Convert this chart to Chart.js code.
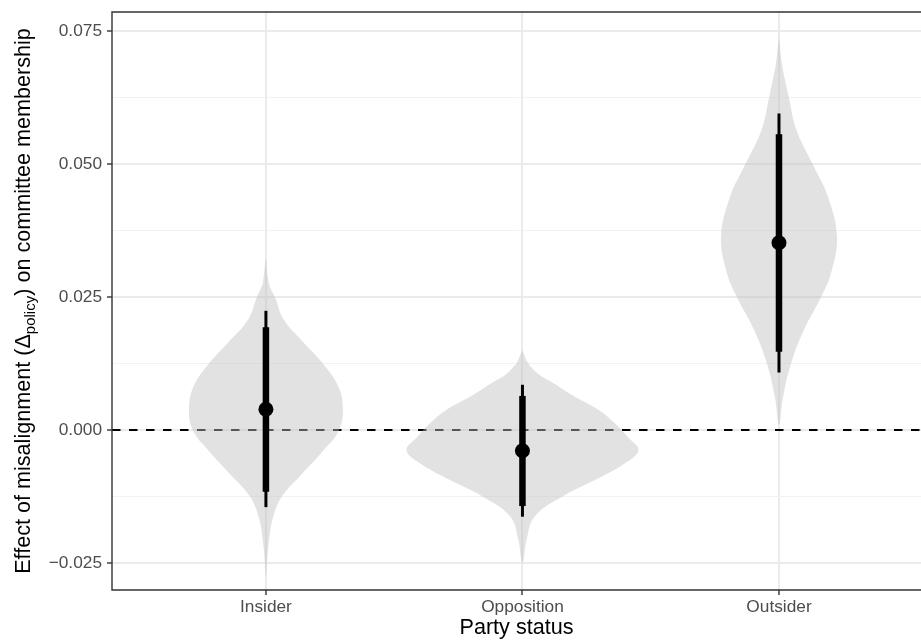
<!DOCTYPE html>
<html>
<head>
<meta charset="UTF-8">
<title>Party status violins</title>
<script src="https://cdn.jsdelivr.net/npm/chart.js@4.4.1/dist/chart.umd.min.js"></script>
<style>
  html, body { margin: 0; padding: 0; background: #fff; }
  #wrap { width: 921px; height: 643px; position: relative; }
</style>
</head>
<body>
<div id="wrap"><canvas id="myChart"></canvas></div>
<script>
// categories and point estimates with intervals
const categories = ['Insider', 'Opposition', 'Outsider'];
const estimates = [0.0039, -0.0039, 0.0352];
const innerLow = [-0.0116, -0.0143, 0.0147];
const innerHigh = [0.0193, 0.0064, 0.0556];
const outerLow = [-0.0145, -0.0163, 0.0108];
const outerHigh = [0.0224, 0.0085, 0.0595];

// violin outlines: levels (y value) and half-width (in category units)
const insiderLevels = [0.0325, 0.0275, 0.025, 0.0207, 0.0166, 0.0125, 0.0083, 0.0041, 0, -0.0042, -0.0083, -0.0125, -0.0166, -0.0208, -0.025, -0.0275];
const insiderWidths = [0, 0.012, 0.035, 0.070, 0.144, 0.222, 0.281, 0.300, 0.285, 0.218, 0.140, 0.062, 0.027, 0.012, 0.004, 0];
const oppositionLevels = [0.015, 0.0125, 0.0104, 0.0088, 0.0063, 0.0038, 0.0013, -0.0013, -0.0038, -0.0063, -0.0088, -0.0125, -0.0163, -0.0207, -0.025];
const oppositionWidths = [0, 0.023, 0.066, 0.121, 0.203, 0.296, 0.359, 0.410, 0.452, 0.398, 0.308, 0.156, 0.047, 0.016, 0];
const outsiderLevels = [0.0739, 0.0687, 0.0624, 0.0564, 0.0498, 0.0438, 0.0363, 0.0295, 0.025, 0.0188, 0.0125, 0.0062, 0.001];
const outsiderWidths = [0, 0.012, 0.039, 0.068, 0.133, 0.191, 0.226, 0.203, 0.164, 0.097, 0.047, 0.016, 0];

// axis ticks
const yMajorTicks = [-0.025, 0, 0.025, 0.05, 0.075];
const yTickLabels = ['\u22120.025', '0.000', '0.025', '0.050', '0.075'];
const yMinorTicks = [-0.0125, 0.0125, 0.0375, 0.0625];

const FONT = "'Liberation Sans', Arial, Helvetica, sans-serif";

function violinPath(center, levels, widths) {
  const right = levels.map((lv, i) => ({ x: center + widths[i], y: lv }));
  const left = [];
  for (let i = levels.length - 2; i >= 1; i--) {
    left.push({ x: center - widths[i], y: levels[i] });
  }
  return right.concat(left);
}

const violins = [
  violinPath(1, insiderLevels, insiderWidths),
  violinPath(2, oppositionLevels, oppositionWidths),
  violinPath(3, outsiderLevels, outsiderWidths)
];

const datasets = [];

// dashed reference line at zero
datasets.push({
  data: [{ x: 0.4, y: 0 }, { x: 3.6, y: 0 }],
  borderColor: '#000',
  borderWidth: 2,
  borderDash: [8.5, 8.5],
  pointRadius: 0,
  tension: 0,
  fill: false,
  order: 10
});

violins.forEach(v => {
  datasets.push({
    data: v,
    borderWidth: 0,
    borderColor: 'rgba(0,0,0,0)',
    backgroundColor: 'rgba(190,190,190,0.45)',
    pointRadius: 0,
    tension: 0.4,
    fill: 'shape',
    order: 8
  });
});

categories.forEach((c, i) => {
  datasets.push({
    data: [{ x: i + 1, y: outerLow[i] }, { x: i + 1, y: outerHigh[i] }],
    borderColor: '#000',
    borderWidth: 3,
    borderCapStyle: 'butt',
    pointRadius: 0,
    tension: 0,
    fill: false,
    order: 4
  });
  datasets.push({
    data: [{ x: i + 1, y: innerLow[i] }, { x: i + 1, y: innerHigh[i] }],
    borderColor: '#000',
    borderWidth: 6.5,
    borderCapStyle: 'butt',
    pointRadius: 0,
    tension: 0,
    fill: false,
    order: 3
  });
});

datasets.push({
  data: estimates.map((e, i) => ({ x: i + 1, y: e })),
  showLine: false,
  pointRadius: 7.5,
  pointBackgroundColor: '#000',
  pointBorderWidth: 0,
  order: 1
});

const isMajor = v => yMajorTicks.some(t => Math.abs(t - v) < 1e-9);

// panel border (right side falls outside the picture) + rotated y title with subscript
const panelPlugin = {
  id: 'panel',
  afterDatasetsDraw(chart) {
    const { ctx, chartArea: a } = chart;
    ctx.save();
    ctx.strokeStyle = '#333';
    ctx.lineWidth = 1.4;
    ctx.beginPath();
    ctx.moveTo(a.right + 2, a.top);
    ctx.lineTo(a.left, a.top);
    ctx.lineTo(a.left, a.bottom);
    ctx.lineTo(a.right + 2, a.bottom);
    ctx.stroke();
    ctx.restore();
  },
  afterDraw(chart) {
    const { ctx, chartArea: a } = chart;
    const t1 = 'Effect of misalignment (\u0394';
    const sub = 'policy';
    const t2 = ') on committee membership';
    const big = "21.6px " + FONT;
    const small = "15px " + FONT;
    ctx.save();
    ctx.font = big;
    const w1 = ctx.measureText(t1).width;
    const w2 = ctx.measureText(t2).width;
    ctx.font = small;
    const ws = ctx.measureText(sub).width;
    const total = w1 + ws + w2;
    ctx.translate(29.5, (a.top + a.bottom) / 2);
    ctx.rotate(-Math.PI / 2);
    ctx.fillStyle = '#000';
    ctx.textBaseline = 'alphabetic';
    ctx.textAlign = 'left';
    let x = -total / 2;
    ctx.font = big;
    ctx.fillText(t1, x, 0);
    x += w1;
    ctx.font = small;
    ctx.fillText(sub, x, 5);
    x += ws;
    ctx.font = big;
    ctx.fillText(t2, x, 0);
    ctx.restore();
  }
};

new Chart(document.getElementById('myChart'), {
  type: 'line',
  data: { datasets },
  plugins: [panelPlugin],
  options: {
    responsive: true,
    maintainAspectRatio: false,
    animation: false,
    layout: { autoPadding: false, padding: { top: 12, right: 0, left: 0, bottom: 0 } },
    plugins: { legend: { display: false }, tooltip: { enabled: false } },
    scales: {
      x: {
        type: 'linear',
        min: 0.4,
        max: 3.5536,
        afterBuildTicks: s => { s.ticks = categories.map((c, i) => ({ value: i + 1 })); },
        afterFit: s => { s.height = 53; s.paddingLeft = 0; s.paddingRight = 0; },
        border: { display: false },
        grid: {
          color: '#EBEBEB',
          lineWidth: 2,
          tickColor: '#333',
          tickLength: 5,
          tickWidth: 1.4
        },
        ticks: {
          autoSkip: false,
          maxRotation: 0,
          padding: 2,
          color: '#4D4D4D',
          font: { family: FONT, size: 17.3 },
          callback: v => categories[Math.round(v) - 1]
        },
        title: {
          display: true,
          text: 'Party status',
          color: '#000',
          font: { family: FONT, size: 21.6 },
          padding: { top: 0, bottom: 2 }
        }
      },
      y: {
        type: 'linear',
        min: -0.03008,
        max: 0.07857,
        afterBuildTicks: s => {
          s.ticks = yMajorTicks.concat(yMinorTicks).sort((a, b) => a - b).map(v => ({ value: v }));
        },
        afterFit: s => { s.width = 112; s.paddingTop = 0; s.paddingBottom = 0; },
        border: { display: false },
        grid: {
          color: ctx => isMajor(ctx.tick.value) ? '#EBEBEB' : '#F2F2F2',
          lineWidth: ctx => isMajor(ctx.tick.value) ? 2 : 1,
          tickColor: ctx => isMajor(ctx.tick.value) ? '#333' : 'rgba(0,0,0,0)',
          tickLength: 5,
          tickWidth: 1.4
        },
        ticks: {
          autoSkip: false,
          padding: 5,
          color: '#4D4D4D',
          font: { family: FONT, size: 17.3 },
          callback: v => {
            const k = yMajorTicks.findIndex(t => Math.abs(t - v) < 1e-9);
            return k >= 0 ? yTickLabels[k] : '';
          }
        }
      }
    }
  }
});
</script>
</body>
</html>
